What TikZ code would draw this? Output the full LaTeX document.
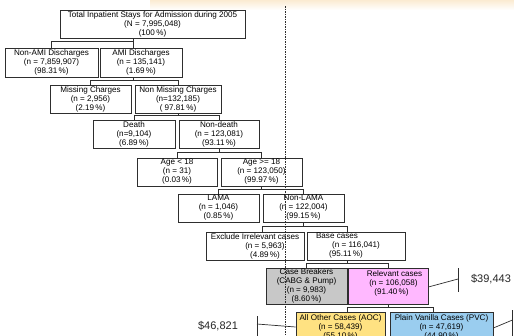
\documentclass[tikz,border=0pt]{standalone}
\usepackage{fontspec}
\setmainfont{Liberation Sans}
\usetikzlibrary{calc}

\definecolor{edgeline}{HTML}{2E2E2E}
\definecolor{breakgray}{HTML}{C8C8C8}
\definecolor{relpink}{HTML}{FFB8FF}
\definecolor{aocyellow}{HTML}{FFE282}
\definecolor{pvcblue}{HTML}{9ACDEF}
\definecolor{haze}{HTML}{FBEBD2}

\begin{document}
\begin{tikzpicture}[x=1pt,y=-1pt,
  box/.style={draw=edgeline, line width=0.7pt, fill=white, inner sep=0pt,
    align=center, font=\fontsize{8.1}{9}\selectfont, minimum height=28pt},
  conn/.style={draw=edgeline, line width=0.7pt},
  divider/.style={draw=edgeline, line width=0.5pt, dash pattern=on 1.5pt off 1pt},
  cost/.style={font=\fontsize{11}{12}\selectfont, inner sep=0pt, text=black!85}]

\useasboundingbox (0,0) rectangle (514,335);
\clip (0,0) rectangle (514,335);
\fill[white] (0,0) rectangle (514,335);
\shade[top color=haze, bottom color=white] (150,0) rectangle (514,10);

% ---- boxes, top to bottom ----
\node[box, minimum width=185pt] (total) at (152.5,24)
  {Total Inpatient Stays for Admission during 2005\\(N = 7,995,048)\\(100\,\%)};
\node[box, minimum width=93pt, minimum height=29pt] (nonami) at (51.5,62.5)
  {Non-AMI Discharges\\(n = 7,859,907)\\(98.31\,\%)};
\node[box, minimum width=82pt, minimum height=29pt] (ami) at (141,62.5)
  {AMI Discharges\\(n = 135,141)\\(1.69\,\%)};
\node[box, minimum width=81pt] (missing) at (90.5,99)
  {Missing Charges\\(n = 2,956)\\(2.19\,\%)};
\node[box, minimum width=86pt] (nonmissing) at (178,99)
  {Non Missing Charges\\(n=132,185)\\( 97.81\,\%)};
\node[box, minimum width=82pt] (death) at (134,134)
  {Death\\(n=9,104)\\(6.89\,\%)};
\node[box, minimum width=80pt] (nondeath) at (219,134)
  {Non-death\\(n = 123,081)\\(93.11\,\%)};
\node[box, minimum width=80pt] (young) at (177,172)
  {Age < 18\\(n = 31)\\(0.03\,\%)};
\node[box, minimum width=81pt] (adult) at (261.5,172)
  {Age >= 18\\(n = 123,050)\\(99.97\,\%)};
\node[box, minimum width=81pt] (lama) at (218.5,208)
  {LAMA\\(n = 1,046)\\(0.85\,\%)};
\node[box, minimum width=81pt] (nonlama) at (303.5,208)
  {Non-LAMA\\(n = 122,004)\\(99.15\,\%)};
\node[box, minimum width=98pt] (exclude) at (255,246)
  {Exclude Irrelevant cases\\\hspace*{20pt}(n = 5,963)\\\hspace*{20pt}(4.89\,\%)};
\node[box, minimum width=98pt] (base) at (356,246)
  {Base cases\hspace*{38pt}\\(n = 116,041)\hspace*{12pt}\\(95.11\,\%)\hspace*{20pt}};
\node[box, minimum width=81pt, minimum height=36pt, fill=breakgray] (breakers) at (306.5,286)
  {Case Breakers\\(CABG \& Pump)\\(n = 9,983)\\(8.60\,\%)};
\node[box, minimum width=80pt, minimum height=36pt, fill=relpink] (relevant) at (388,286)
  {\hspace*{13pt}Relevant cases\\\hspace*{11pt}(n = 106,058)\\\hspace*{7pt}(91.40\,\%)\\[-3pt]\mbox{}};
\node[box, minimum width=89pt, minimum height=30pt, fill=aocyellow] (aoc) at (340.5,327)
  {All Other Cases (AOC)\\(n = 58,439)\\(55.10\,\%)};
\node[box, minimum width=103pt, minimum height=30pt, fill=pvcblue] (pvc) at (441.5,327)
  {Plain Vanilla Cases (PVC)\\(n = 47,619)\\(44.90\,\%)};

% ---- tree connectors ----
\coordinate (amiTop) at ($(ami.north)+(-8,0)$);
\coordinate (amiBot) at ($(ami.south)+(-8,0)$);
\draw[conn] (amiTop) -- (amiTop |- total.south);
\draw[conn] (nonami.north) -- ++(0,-6) -| (amiTop);

\draw[conn] (amiBot) -- ++(0,4);
\draw[conn] (missing.north) -- ++(0,-4) -| (nonmissing.north);

\draw[conn] (nonmissing.south) -- ++(0,3);
\draw[conn] (death.north) -- ++(0,-4) -| (nondeath.north);

\draw[conn] (nondeath.south) -- ++(0,5);
\draw[conn] (young.north) -- ++(0,-5) -| (adult.north);

\draw[conn] (adult.south) -- ++(0,4);
\draw[conn] (lama.north) -- ++(0,-4) -| (nonlama.north);

\coordinate (excTop) at ($(exclude.north)+(7,0)$);
\coordinate (baseTop) at ($(base.north)+(-9,0)$);
\coordinate (baseBot) at ($(base.south)+(-9,0)$);
\draw[conn] (nonlama.south) -- ++(0,5);
\draw[conn] (excTop) -- ++(0,-5) -| (baseTop);

\draw[conn] (baseBot) -- ++(0,4);
\draw[conn] (breakers.north) -- ++(0,-4) -| (relevant.north);

\coordinate (aocTop) at ($(aoc.north)+(6.5,0)$);
\coordinate (pvcTop) at ($(pvc.north)+(-8.5,0)$);
\draw[conn] (relevant.south) -- ++(0,4);
\draw[conn] (aocTop) -- ++(0,-4) -| (pvcTop);

% ---- cost annotations ----
\node[cost] (costRel) at (491,279) {\$39,443};
\coordinate (tickRel) at (458,279);
\draw[conn] ($(relevant.east)+(0,1)$) -- (tickRel);
\draw[conn] ($(tickRel)+(0,-11)$) -- ($(tickRel)+(0,13)$);

\node[cost] (costAoc) at (218,326) {\$46,821};
\coordinate (tickAoc) at (257,324);
\draw[conn] (tickAoc) -- (aoc.west);
\draw[conn] ($(tickAoc)+(0,-8)$) -- ($(tickAoc)+(0,16)$);

\coordinate (tickPvc) at (512.5,320);
\draw[conn] ($(pvc.east)+(0,1)$) -- (tickPvc);
\draw[conn] ($(tickPvc)+(0,-10)$) -- ($(tickPvc)+(0,20)$);

% ---- vertical divider ----
\coordinate (divTop) at (285.5,6);
\coordinate (divBot) at (285.5,335);
\draw[divider] (divTop) -- (divBot);
\end{tikzpicture}
\end{document}
